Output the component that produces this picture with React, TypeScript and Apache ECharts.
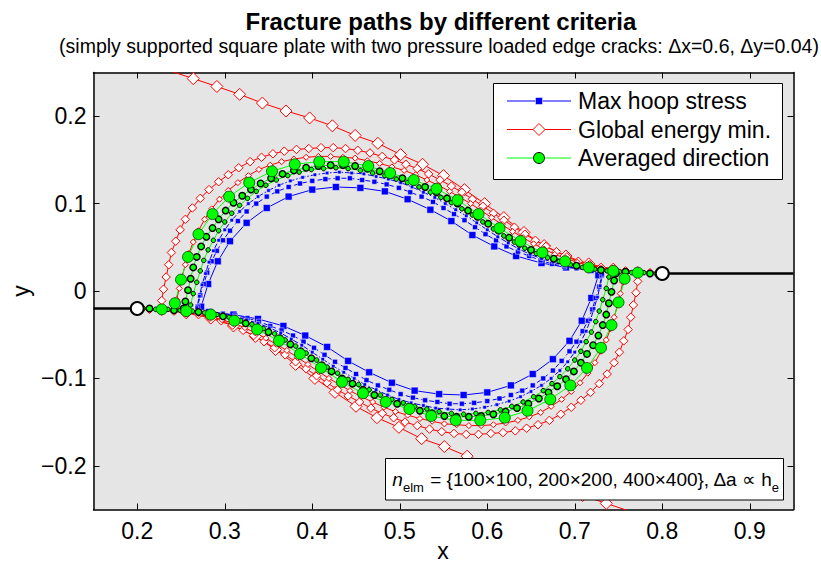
import React, { useEffect, useRef } from "react";
import * as echarts from "echarts";

const X_TICKS = [0.2, 0.3, 0.4, 0.5, 0.6, 0.7, 0.8, 0.9];
const Y_TICKS = [-0.2, -0.1, 0, 0.1, 0.2];
const X_MIN = 0.15;
const X_MAX = 0.95;
const Y_MIN = -0.25;
const Y_MAX = 0.25;

const CRACK_LEFT = [[0.15, -0.02], [0.2, -0.02]];
const CRACK_RIGHT = [[0.8, 0.02], [0.95, 0.02]];
const CRACK_TIPS = [[0.2, -0.02], [0.8, 0.02]];

// Max hoop stress, 100x100 (path from left tip / path from right tip)
const B1_LOWER = [[0.200,-0.020],[0.227,-0.021],[0.254,-0.022],[0.282,-0.024],[0.310,-0.027],[0.338,-0.032],[0.367,-0.040],[0.392,-0.051],[0.417,-0.064],[0.441,-0.080],[0.465,-0.093],[0.491,-0.105],[0.517,-0.114],[0.545,-0.118],[0.573,-0.119],[0.600,-0.116],[0.627,-0.108],[0.652,-0.095],[0.675,-0.078],[0.694,-0.057],[0.708,-0.034],[0.719,-0.008],[0.727,0.018]];
const B1_UPPER = [[0.800,0.020],[0.773,0.021],[0.746,0.022],[0.718,0.024],[0.690,0.027],[0.662,0.032],[0.633,0.040],[0.608,0.051],[0.583,0.064],[0.559,0.080],[0.535,0.093],[0.509,0.105],[0.483,0.114],[0.455,0.118],[0.427,0.119],[0.400,0.116],[0.373,0.108],[0.348,0.095],[0.325,0.078],[0.306,0.057],[0.292,0.034],[0.281,0.008],[0.273,-0.018]];
// Max hoop stress, 200x200
const B2_LOWER = [[0.200,-0.020],[0.214,-0.020],[0.228,-0.021],[0.242,-0.021],[0.256,-0.022],[0.270,-0.023],[0.284,-0.024],[0.298,-0.026],[0.312,-0.028],[0.326,-0.031],[0.339,-0.035],[0.352,-0.040],[0.365,-0.045],[0.378,-0.051],[0.390,-0.058],[0.402,-0.065],[0.414,-0.073],[0.426,-0.081],[0.438,-0.088],[0.450,-0.095],[0.462,-0.102],[0.475,-0.108],[0.488,-0.113],[0.501,-0.118],[0.515,-0.122],[0.529,-0.125],[0.543,-0.127],[0.557,-0.129],[0.571,-0.129],[0.585,-0.128],[0.600,-0.126],[0.614,-0.123],[0.627,-0.119],[0.640,-0.114],[0.652,-0.108],[0.664,-0.100],[0.675,-0.091],[0.685,-0.080],[0.694,-0.069],[0.702,-0.058],[0.709,-0.046],[0.715,-0.034],[0.720,-0.021],[0.724,-0.008],[0.728,0.005],[0.731,0.018]];
const B2_UPPER = [[0.800,0.020],[0.786,0.020],[0.772,0.021],[0.758,0.021],[0.744,0.022],[0.730,0.023],[0.716,0.024],[0.702,0.026],[0.688,0.028],[0.674,0.031],[0.661,0.035],[0.648,0.040],[0.635,0.045],[0.622,0.051],[0.610,0.058],[0.598,0.065],[0.586,0.073],[0.574,0.081],[0.562,0.088],[0.550,0.095],[0.538,0.102],[0.525,0.108],[0.512,0.113],[0.499,0.118],[0.485,0.122],[0.471,0.125],[0.457,0.127],[0.443,0.129],[0.429,0.129],[0.415,0.128],[0.400,0.126],[0.386,0.123],[0.373,0.119],[0.360,0.114],[0.348,0.108],[0.336,0.100],[0.325,0.091],[0.315,0.080],[0.306,0.069],[0.298,0.058],[0.291,0.046],[0.285,0.034],[0.280,0.021],[0.276,0.008],[0.272,-0.005],[0.269,-0.018]];
// Max hoop stress, 400x400
const B3_LOWER = [[0.200,-0.020],[0.214,-0.020],[0.228,-0.021],[0.242,-0.021],[0.256,-0.022],[0.270,-0.023],[0.284,-0.025],[0.298,-0.027],[0.312,-0.029],[0.325,-0.033],[0.338,-0.037],[0.351,-0.042],[0.364,-0.048],[0.376,-0.055],[0.388,-0.062],[0.400,-0.070],[0.412,-0.078],[0.424,-0.086],[0.436,-0.093],[0.448,-0.100],[0.460,-0.107],[0.473,-0.113],[0.486,-0.119],[0.499,-0.124],[0.513,-0.128],[0.527,-0.131],[0.541,-0.134],[0.555,-0.135],[0.569,-0.136],[0.583,-0.135],[0.597,-0.133],[0.611,-0.130],[0.625,-0.126],[0.638,-0.121],[0.650,-0.115],[0.662,-0.108],[0.673,-0.100],[0.683,-0.091],[0.692,-0.081],[0.700,-0.070],[0.707,-0.058],[0.713,-0.046],[0.718,-0.033],[0.722,-0.020],[0.726,-0.007],[0.729,0.006],[0.732,0.019]];
const B3_UPPER = [[0.800,0.020],[0.786,0.020],[0.772,0.021],[0.758,0.021],[0.744,0.022],[0.730,0.023],[0.716,0.025],[0.702,0.027],[0.688,0.029],[0.675,0.033],[0.662,0.037],[0.649,0.042],[0.636,0.048],[0.624,0.055],[0.612,0.062],[0.600,0.070],[0.588,0.078],[0.576,0.086],[0.564,0.093],[0.552,0.100],[0.540,0.107],[0.527,0.113],[0.514,0.119],[0.501,0.124],[0.487,0.128],[0.473,0.131],[0.459,0.134],[0.445,0.135],[0.431,0.136],[0.417,0.135],[0.403,0.133],[0.389,0.130],[0.375,0.126],[0.362,0.121],[0.350,0.115],[0.338,0.108],[0.327,0.100],[0.317,0.091],[0.308,0.081],[0.300,0.070],[0.293,0.058],[0.287,0.046],[0.282,0.033],[0.278,0.020],[0.274,0.007],[0.271,-0.006],[0.268,-0.019]];

// Global energy min., 100x100
const R1_LOWER = [[0.200,-0.020],[0.228,-0.021],[0.256,-0.025],[0.284,-0.031],[0.310,-0.040],[0.335,-0.052],[0.358,-0.067],[0.381,-0.084],[0.403,-0.100],[0.426,-0.116],[0.450,-0.132],[0.474,-0.145],[0.499,-0.156],[0.525,-0.169],[0.551,-0.178],[0.577,-0.189],[0.603,-0.198],[0.630,-0.206],[0.657,-0.215],[0.683,-0.225],[0.709,-0.234],[0.736,-0.243],[0.763,-0.252]];
const R1_UPPER = [[0.800,0.020],[0.772,0.021],[0.744,0.025],[0.716,0.031],[0.690,0.040],[0.665,0.052],[0.642,0.067],[0.619,0.084],[0.597,0.100],[0.574,0.116],[0.550,0.132],[0.526,0.145],[0.501,0.156],[0.475,0.169],[0.449,0.178],[0.423,0.189],[0.397,0.198],[0.370,0.206],[0.343,0.215],[0.317,0.225],[0.291,0.234],[0.264,0.243],[0.237,0.252]];
// Global energy min., 200x200
const R2_LOWER = [[0.200,-0.020],[0.214,-0.021],[0.228,-0.022],[0.242,-0.023],[0.256,-0.025],[0.270,-0.027],[0.283,-0.030],[0.296,-0.034],[0.309,-0.039],[0.321,-0.045],[0.333,-0.051],[0.345,-0.058],[0.357,-0.065],[0.369,-0.073],[0.381,-0.081],[0.393,-0.089],[0.405,-0.097],[0.417,-0.105],[0.429,-0.113],[0.441,-0.120],[0.454,-0.127],[0.467,-0.134],[0.480,-0.140],[0.493,-0.145],[0.506,-0.150],[0.520,-0.154],[0.534,-0.158],[0.548,-0.161],[0.562,-0.163],[0.576,-0.164],[0.590,-0.164],[0.604,-0.163],[0.618,-0.162],[0.632,-0.160],[0.645,-0.157],[0.658,-0.153],[0.671,-0.148],[0.684,-0.141],[0.696,-0.133],[0.707,-0.125],[0.718,-0.116],[0.728,-0.106],[0.737,-0.095],[0.745,-0.082],[0.751,-0.070],[0.756,-0.057],[0.761,-0.044],[0.764,-0.030],[0.767,-0.016],[0.770,-0.002],[0.772,0.011]];
const R2_UPPER = [[0.800,0.020],[0.786,0.021],[0.772,0.022],[0.758,0.023],[0.744,0.025],[0.730,0.027],[0.717,0.030],[0.704,0.034],[0.691,0.039],[0.679,0.045],[0.667,0.051],[0.655,0.058],[0.643,0.065],[0.631,0.073],[0.619,0.081],[0.607,0.089],[0.595,0.097],[0.583,0.105],[0.571,0.113],[0.559,0.120],[0.546,0.127],[0.533,0.134],[0.520,0.140],[0.507,0.145],[0.494,0.150],[0.480,0.154],[0.466,0.158],[0.452,0.161],[0.438,0.163],[0.424,0.164],[0.410,0.164],[0.396,0.163],[0.382,0.162],[0.368,0.160],[0.355,0.157],[0.342,0.153],[0.329,0.148],[0.316,0.141],[0.304,0.133],[0.293,0.125],[0.282,0.116],[0.272,0.106],[0.263,0.095],[0.255,0.082],[0.249,0.070],[0.244,0.057],[0.239,0.044],[0.236,0.030],[0.233,0.016],[0.230,0.002],[0.228,-0.011]];
// Global energy min., 400x400
const R3_LOWER = [[0.200,-0.020],[0.214,-0.021],[0.228,-0.022],[0.242,-0.023],[0.256,-0.024],[0.270,-0.026],[0.284,-0.029],[0.297,-0.033],[0.310,-0.037],[0.323,-0.042],[0.335,-0.048],[0.347,-0.054],[0.359,-0.061],[0.371,-0.068],[0.383,-0.076],[0.395,-0.084],[0.407,-0.092],[0.419,-0.100],[0.431,-0.107],[0.443,-0.114],[0.456,-0.121],[0.469,-0.127],[0.482,-0.133],[0.495,-0.138],[0.509,-0.142],[0.523,-0.146],[0.537,-0.149],[0.551,-0.152],[0.565,-0.153],[0.579,-0.154],[0.593,-0.154],[0.607,-0.153],[0.621,-0.151],[0.635,-0.148],[0.648,-0.144],[0.661,-0.139],[0.673,-0.132],[0.685,-0.124],[0.696,-0.115],[0.706,-0.105],[0.715,-0.094],[0.723,-0.082],[0.730,-0.069],[0.736,-0.056],[0.741,-0.043],[0.745,-0.030],[0.749,-0.016],[0.752,-0.003],[0.755,0.010],[0.757,0.020]];
const R3_UPPER = [[0.800,0.020],[0.786,0.021],[0.772,0.022],[0.758,0.023],[0.744,0.024],[0.730,0.026],[0.716,0.029],[0.703,0.033],[0.690,0.037],[0.677,0.042],[0.665,0.048],[0.653,0.054],[0.641,0.061],[0.629,0.068],[0.617,0.076],[0.605,0.084],[0.593,0.092],[0.581,0.100],[0.569,0.107],[0.557,0.114],[0.544,0.121],[0.531,0.127],[0.518,0.133],[0.505,0.138],[0.491,0.142],[0.477,0.146],[0.463,0.149],[0.449,0.152],[0.435,0.153],[0.421,0.154],[0.407,0.154],[0.393,0.153],[0.379,0.151],[0.365,0.148],[0.352,0.144],[0.339,0.139],[0.327,0.132],[0.315,0.124],[0.304,0.115],[0.294,0.105],[0.285,0.094],[0.277,0.082],[0.270,0.069],[0.264,0.056],[0.259,0.043],[0.255,0.030],[0.251,0.016],[0.248,0.003],[0.245,-0.010],[0.243,-0.020]];

// Averaged direction, 100x100
const G1_LOWER = [[0.200,-0.020],[0.228,-0.021],[0.256,-0.023],[0.284,-0.027],[0.311,-0.034],[0.337,-0.044],[0.362,-0.057],[0.386,-0.072],[0.410,-0.088],[0.434,-0.104],[0.458,-0.117],[0.484,-0.127],[0.511,-0.135],[0.536,-0.143],[0.564,-0.148],[0.592,-0.148],[0.620,-0.145],[0.646,-0.137],[0.672,-0.124],[0.695,-0.108],[0.714,-0.088],[0.730,-0.065],[0.742,-0.039],[0.750,-0.013],[0.757,0.014]];
const G1_UPPER = [[0.800,0.020],[0.772,0.021],[0.744,0.023],[0.716,0.027],[0.689,0.034],[0.663,0.044],[0.638,0.057],[0.614,0.072],[0.590,0.088],[0.566,0.104],[0.542,0.117],[0.516,0.127],[0.489,0.135],[0.464,0.143],[0.436,0.148],[0.408,0.148],[0.380,0.145],[0.354,0.137],[0.328,0.124],[0.305,0.108],[0.286,0.088],[0.270,0.065],[0.258,0.039],[0.250,0.013],[0.243,-0.014]];
// Averaged direction, 200x200
const G2_LOWER = [[0.200,-0.020],[0.214,-0.020],[0.228,-0.021],[0.242,-0.022],[0.256,-0.023],[0.270,-0.024],[0.284,-0.026],[0.298,-0.029],[0.311,-0.033],[0.324,-0.037],[0.337,-0.042],[0.350,-0.047],[0.363,-0.054],[0.375,-0.061],[0.387,-0.069],[0.399,-0.077],[0.411,-0.085],[0.422,-0.092],[0.434,-0.100],[0.446,-0.106],[0.458,-0.113],[0.471,-0.119],[0.484,-0.125],[0.497,-0.129],[0.510,-0.133],[0.523,-0.137],[0.537,-0.140],[0.551,-0.143],[0.565,-0.144],[0.579,-0.144],[0.593,-0.143],[0.607,-0.141],[0.621,-0.138],[0.634,-0.134],[0.647,-0.129],[0.659,-0.123],[0.670,-0.116],[0.680,-0.109],[0.690,-0.101],[0.699,-0.092],[0.707,-0.082],[0.714,-0.072],[0.721,-0.062],[0.727,-0.051],[0.732,-0.039],[0.736,-0.027],[0.739,-0.014],[0.742,-0.001],[0.745,0.012],[0.747,0.020]];
const G2_UPPER = [[0.800,0.020],[0.786,0.020],[0.772,0.021],[0.758,0.022],[0.744,0.023],[0.730,0.024],[0.716,0.026],[0.702,0.029],[0.689,0.033],[0.676,0.037],[0.663,0.042],[0.650,0.047],[0.637,0.054],[0.625,0.061],[0.613,0.069],[0.601,0.077],[0.589,0.085],[0.578,0.092],[0.566,0.100],[0.554,0.106],[0.542,0.113],[0.529,0.119],[0.516,0.125],[0.503,0.129],[0.490,0.133],[0.477,0.137],[0.463,0.140],[0.449,0.143],[0.435,0.144],[0.421,0.144],[0.407,0.143],[0.393,0.141],[0.379,0.138],[0.366,0.134],[0.353,0.129],[0.341,0.123],[0.330,0.116],[0.320,0.109],[0.310,0.101],[0.301,0.092],[0.293,0.082],[0.286,0.072],[0.279,0.062],[0.273,0.051],[0.268,0.039],[0.264,0.027],[0.261,0.014],[0.258,0.001],[0.255,-0.012],[0.253,-0.020]];
// Averaged direction, 400x400
const G3_LOWER = [[0.200,-0.020],[0.207,-0.020],[0.221,-0.021],[0.235,-0.021],[0.249,-0.022],[0.263,-0.023],[0.277,-0.025],[0.291,-0.027],[0.305,-0.030],[0.318,-0.034],[0.331,-0.038],[0.344,-0.043],[0.357,-0.049],[0.369,-0.056],[0.381,-0.063],[0.393,-0.071],[0.405,-0.079],[0.417,-0.087],[0.429,-0.094],[0.441,-0.101],[0.453,-0.107],[0.465,-0.113],[0.478,-0.119],[0.491,-0.124],[0.504,-0.128],[0.517,-0.132],[0.531,-0.135],[0.545,-0.138],[0.559,-0.140],[0.573,-0.141],[0.587,-0.140],[0.601,-0.139],[0.615,-0.136],[0.628,-0.132],[0.641,-0.127],[0.653,-0.121],[0.664,-0.114],[0.674,-0.106],[0.683,-0.098],[0.692,-0.089],[0.700,-0.079],[0.707,-0.069],[0.713,-0.058],[0.719,-0.047],[0.724,-0.035],[0.728,-0.023],[0.732,-0.010],[0.736,0.003],[0.739,0.016]];
const G3_UPPER = [[0.800,0.020],[0.793,0.020],[0.779,0.021],[0.765,0.021],[0.751,0.022],[0.737,0.023],[0.723,0.025],[0.709,0.027],[0.695,0.030],[0.682,0.034],[0.669,0.038],[0.656,0.043],[0.643,0.049],[0.631,0.056],[0.619,0.063],[0.607,0.071],[0.595,0.079],[0.583,0.087],[0.571,0.094],[0.559,0.101],[0.547,0.107],[0.535,0.113],[0.522,0.119],[0.509,0.124],[0.496,0.128],[0.483,0.132],[0.469,0.135],[0.455,0.138],[0.441,0.140],[0.427,0.141],[0.413,0.140],[0.399,0.139],[0.385,0.136],[0.372,0.132],[0.359,0.127],[0.347,0.121],[0.336,0.114],[0.326,0.106],[0.317,0.098],[0.308,0.089],[0.300,0.079],[0.293,0.069],[0.287,0.058],[0.281,0.047],[0.276,0.035],[0.272,0.023],[0.268,0.010],[0.264,-0.003],[0.261,-0.016]];

const LEGEND_LABELS = ["Max hoop stress", "Global energy min.", "Averaged direction"];
const TITLE = "Fracture paths by different criteria";
const SUBTITLE = "(simply supported square plate with two pressure loaded edge cracks: \u0394x=0.6, \u0394y=0.04)";

const FONT = '"Liberation Sans", Arial, Helvetica, sans-serif';
const BLUE = "#0000ff";
const RED = "#ff0000";
const GREEN = "#00ff00";

function pathSeries(name: string, data: number[][], o: any) {
  return {
    type: "line",
    name,
    data,
    xAxisIndex: 0,
    yAxisIndex: 0,
    smooth: false,
    clip: true,
    silent: true,
    showSymbol: true,
    showAllSymbol: true,
    symbol: o.symbol,
    symbolSize: o.size,
    lineStyle: { color: o.line, width: o.lw ?? 1, type: o.type ?? "solid" },
    itemStyle: { color: o.fill, borderColor: o.stroke, borderWidth: o.bw, opacity: 1 },
    emphasis: { disabled: true },
    z: o.z ?? 2,
  };
}

export default function App() {
  const ref = useRef<HTMLDivElement>(null);

  useEffect(() => {
    if (!ref.current) return;
    const chart = echarts.init(ref.current, null, { renderer: "svg" });

    const blue = (size: number, type: any) => ({ symbol: "rect", size, line: BLUE, type, fill: BLUE, stroke: "#ffffff", bw: 0.5 });
    const red = (size: number) => ({ symbol: "diamond", size, line: RED, fill: "#ffffff", stroke: RED, bw: 1 });
    const green = (size: number, bw: number, stroke: string) => ({ symbol: "circle", size, line: GREEN, fill: GREEN, stroke, bw });

    const series: any[] = [
      pathSeries("Max hoop stress 100x100", B1_LOWER, blue(7, "solid")),
      pathSeries("Max hoop stress 100x100", B1_UPPER, blue(7, "solid")),
      pathSeries("Max hoop stress 200x200", B2_LOWER, blue(5, [5, 3])),
      pathSeries("Max hoop stress 200x200", B2_UPPER, blue(5, [5, 3])),
      pathSeries("Max hoop stress 400x400", B3_LOWER, blue(3.5, [6, 2, 1.5, 2])),
      pathSeries("Max hoop stress 400x400", B3_UPPER, blue(3.5, [6, 2, 1.5, 2])),
      pathSeries("Global energy min. 100x100", R1_LOWER, red(12)),
      pathSeries("Global energy min. 100x100", R1_UPPER, red(12)),
      pathSeries("Global energy min. 200x200", R2_LOWER, red(8.5)),
      pathSeries("Global energy min. 200x200", R2_UPPER, red(8.5)),
      pathSeries("Global energy min. 400x400", R3_LOWER, red(6)),
      pathSeries("Global energy min. 400x400", R3_UPPER, red(6)),
      pathSeries("Averaged direction 400x400", G3_LOWER, green(4.5, 1, "#000000")),
      pathSeries("Averaged direction 400x400", G3_UPPER, green(4.5, 1, "#000000")),
      pathSeries("Averaged direction 200x200", G2_LOWER, green(6.5, 1.4, "#000000")),
      pathSeries("Averaged direction 200x200", G2_UPPER, green(6.5, 1.4, "#000000")),
      pathSeries("Averaged direction 100x100", G1_LOWER, green(11, 0.8, "#004400")),
      pathSeries("Averaged direction 100x100", G1_UPPER, green(11, 0.8, "#004400")),
      {
        type: "line", name: "crack left", data: CRACK_LEFT, showSymbol: false, silent: true,
        lineStyle: { color: "#000", width: 2.5 }, z: 3,
      },
      {
        type: "line", name: "crack right", data: CRACK_RIGHT, showSymbol: false, silent: true,
        lineStyle: { color: "#000", width: 2.5 }, z: 3,
      },
      {
        type: "scatter", name: "crack tips", data: CRACK_TIPS, symbol: "circle", symbolSize: 13, silent: true,
        itemStyle: { color: "#ffffff", borderColor: "#000000", borderWidth: 2, opacity: 1 }, z: 4,
      },
    ];

    const tickLabel = { color: "#000", fontSize: 23, fontFamily: FONT };
    const fmtY = (v: number) => (v < 0 ? "\u2212" + String(Math.abs(v)) : String(v));

    const legendRows = [101, 129.5, 158];
    const graphic: any[] = [
      { type: "text", z: 100, style: { text: TITLE, x: 441, y: 21, align: "center", verticalAlign: "middle", fill: "#000", font: `bold 24px ${FONT}` } },
      { type: "text", z: 100, style: { text: SUBTITLE, x: 439, y: 46, align: "center", verticalAlign: "middle", fill: "#000", font: `19.5px ${FONT}` } },
      { type: "text", z: 100, style: { text: "x", x: 443, y: 551, align: "center", verticalAlign: "middle", fill: "#000", font: `23px ${FONT}` } },
      { type: "text", z: 100, x: 21, y: 291, rotation: Math.PI / 2, style: { text: "y", x: 0, y: 0, align: "center", verticalAlign: "middle", fill: "#000", font: `23px ${FONT}` } },
      // legend box
      { type: "rect", z: 100, shape: { x: 493.5, y: 83.5, width: 289, height: 96 }, style: { fill: "#ffffff", stroke: "#000000", lineWidth: 1 } },
      { type: "line", z: 101, shape: { x1: 507, y1: legendRows[0], x2: 571, y2: legendRows[0] }, style: { stroke: BLUE, lineWidth: 1 } },
      { type: "rect", z: 102, shape: { x: 535.5, y: legendRows[0] - 3.5, width: 7, height: 7 }, style: { fill: BLUE, stroke: "#ffffff", lineWidth: 0.5 } },
      { type: "line", z: 101, shape: { x1: 507, y1: legendRows[1], x2: 571, y2: legendRows[1] }, style: { stroke: RED, lineWidth: 1 } },
      { type: "polygon", z: 102, shape: { points: [[539, legendRows[1] - 6], [545, legendRows[1]], [539, legendRows[1] + 6], [533, legendRows[1]]] }, style: { fill: "#ffffff", stroke: RED, lineWidth: 1 } },
      { type: "line", z: 101, shape: { x1: 507, y1: legendRows[2], x2: 571, y2: legendRows[2] }, style: { stroke: GREEN, lineWidth: 1 } },
      { type: "circle", z: 102, shape: { cx: 539, cy: legendRows[2], r: 5.5 }, style: { fill: GREEN, stroke: "#000000", lineWidth: 1 } },
      ...LEGEND_LABELS.map((t, i) => ({ type: "text", z: 102, style: { text: t, x: 578, y: legendRows[i], align: "left", verticalAlign: "middle", fill: "#000", font: `23px ${FONT}` } })),
      // annotation box
      { type: "rect", z: 100, shape: { x: 385.5, y: 458.5, width: 398, height: 41.5 }, style: { fill: "#ffffff", stroke: "#000000", lineWidth: 1 } },
      {
        type: "text", z: 101,
        style: {
          text: "{i|n}{s|elm} = {100\u00d7100, 200\u00d7200, 400\u00d7400}, \u0394a \u221d h{s|e}",
          x: 779, y: 479, align: "right", verticalAlign: "middle", fill: "#000",
          fontSize: 19, fontFamily: FONT,
          rich: {
            i: { fontSize: 19, fontStyle: "italic", fontFamily: FONT, fill: "#000" },
            s: { fontSize: 13, fontFamily: FONT, fill: "#000", padding: [16, 0, 0, 0] },
          },
        },
      },
    ];

    chart.setOption({
      animation: false,
      backgroundColor: "#ffffff",
      grid: { left: 93.5, top: 72.5, width: 700, height: 437, show: true, backgroundColor: "#e5e5e5", borderWidth: 0, containLabel: false },
      xAxis: [
        {
          type: "value", position: "bottom", min: X_MIN, max: X_MAX,
          axisLine: { show: true, onZero: false, lineStyle: { color: "#000", width: 1.5 } },
          axisTick: { show: true, inside: true, length: 6, customValues: X_TICKS, lineStyle: { color: "#000", width: 1 } },
          axisLabel: { show: true, customValues: X_TICKS, margin: 10, formatter: (v: number) => String(v), ...tickLabel },
          splitLine: { show: false },
        },
        {
          type: "value", position: "top", min: X_MIN, max: X_MAX,
          axisLine: { show: true, onZero: false, lineStyle: { color: "#000", width: 1.5 } },
          axisTick: { show: true, inside: true, length: 6, customValues: X_TICKS, lineStyle: { color: "#000", width: 1 } },
          axisLabel: { show: false },
          splitLine: { show: false },
        },
      ],
      yAxis: [
        {
          type: "value", position: "left", min: Y_MIN, max: Y_MAX,
          axisLine: { show: true, onZero: false, lineStyle: { color: "#000", width: 1.5 } },
          axisTick: { show: true, inside: true, length: 6, customValues: Y_TICKS, lineStyle: { color: "#000", width: 1 } },
          axisLabel: { show: true, customValues: Y_TICKS, margin: 7, formatter: fmtY, ...tickLabel },
          splitLine: { show: false },
        },
        {
          type: "value", position: "right", min: Y_MIN, max: Y_MAX,
          axisLine: { show: true, onZero: false, lineStyle: { color: "#000", width: 1.5 } },
          axisTick: { show: true, inside: true, length: 6, customValues: Y_TICKS, lineStyle: { color: "#000", width: 1 } },
          axisLabel: { show: false },
          splitLine: { show: false },
        },
      ],
      series,
      graphic,
    });

    return () => chart.dispose();
  }, []);

  return (
    <div
      ref={ref}
      style={{ position: "absolute", left: 0, top: 0, width: 821, height: 567, background: "#ffffff" }}
    />
  );
}
